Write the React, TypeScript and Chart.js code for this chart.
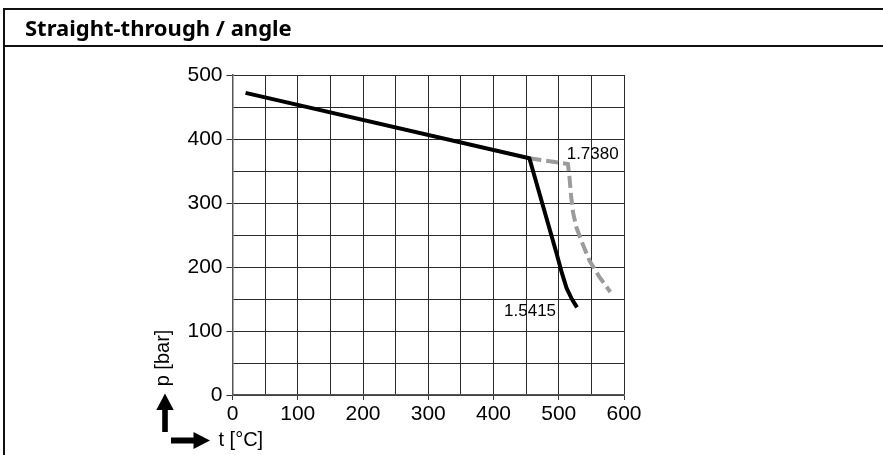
import React, { useEffect, useRef } from 'react';
import { Chart, registerables } from 'chart.js';

Chart.register(...registerables);

const TITLE = 'Straight-through / angle';
const X_LABEL = 't [°C]';
const Y_LABEL = 'p [bar]';

const X_MIN = 0;
const X_MAX = 600;
const Y_MIN = 0;
const Y_MAX = 500;
const GRID_STEP = 50;
const LABEL_STEP = 100;

// Solid black curve (1.5415)
const blackT = [20, 455, 497, 505, 512, 520, 528];
const blackP = [472, 370, 220, 190, 167, 150, 137];

// Dashed grey curve (1.7380)
const grayT = [455, 514, 516, 519, 522, 527, 537, 547, 562, 579];
const grayP = [370, 361, 345, 310, 285, 262, 235, 210, 185, 161];

// Curve labels
const noteText = ['1.7380', '1.5415'];
const noteT = [552, 456];
const noteP = [376, 130];

const FONT = '"Liberation Sans", Arial, Helvetica, sans-serif';

const toPoints = (xs: number[], ys: number[]) => xs.map((x, i) => ({ x, y: ys[i] }));

const overlayPlugin = {
  id: 'overlay',
  afterDraw(chart: any) {
    const { ctx, chartArea, scales } = chart;
    const xs = scales.x;
    const ys = scales.y;
    ctx.save();
    ctx.fillStyle = '#000';
    ctx.font = `17px ${FONT}`;
    ctx.textAlign = 'center';
    ctx.textBaseline = 'middle';
    noteText.forEach((t, i) => {
      ctx.fillText(t, xs.getPixelForValue(noteT[i]), ys.getPixelForValue(noteP[i]));
    });

    const L = chartArea.left;
    const B = chartArea.bottom;

    // y axis title (rotated)
    ctx.font = `20px ${FONT}`;
    ctx.save();
    ctx.translate(L - 69, B - 37);
    ctx.rotate(-Math.PI / 2);
    ctx.textAlign = 'center';
    ctx.textBaseline = 'middle';
    ctx.fillText(Y_LABEL, 0, 0);
    ctx.restore();

    // x axis title
    ctx.textAlign = 'left';
    ctx.textBaseline = 'middle';
    ctx.fillText(X_LABEL, L - 14, B + 45);

    // vertical arrow
    const ax = L - 67.5;
    ctx.fillStyle = '#000';
    ctx.fillRect(ax - 2.8, B + 12, 5.6, 25);
    ctx.beginPath();
    ctx.moveTo(ax, B - 1.5);
    ctx.lineTo(ax + 8.7, B + 15);
    ctx.lineTo(ax - 8.7, B + 15);
    ctx.closePath();
    ctx.fill();

    // horizontal arrow
    const ay = B + 45.5;
    ctx.fillRect(L - 61.5, ay - 3, 26, 6);
    ctx.beginPath();
    ctx.moveTo(L - 22.5, ay);
    ctx.lineTo(L - 39, ay - 8.5);
    ctx.lineTo(L - 39, ay + 8.5);
    ctx.closePath();
    ctx.fill();
    ctx.restore();
  },
};

export default function App() {
  const ref = useRef<HTMLCanvasElement | null>(null);

  useEffect(() => {
    document.body.style.margin = '0';
    if (!ref.current) return;
    const isMajor = (v: number) => Math.abs(v % LABEL_STEP) < 1e-6;
    const chart = new Chart(ref.current, {
      type: 'line',
      data: {
        datasets: [
          {
            label: '1.5415',
            data: toPoints(blackT, blackP),
            borderColor: '#000',
            borderWidth: 4,
            pointRadius: 0,
            tension: 0,
            borderJoinStyle: 'round',
          },
          {
            label: '1.7380',
            data: toPoints(grayT, grayP),
            borderColor: '#9b9b9b',
            borderWidth: 4,
            borderDash: [12, 5],
            pointRadius: 0,
            tension: 0,
          },
        ],
      },
      options: {
        animation: false,
        responsive: true,
        maintainAspectRatio: false,
        layout: { padding: { left: 0, top: 75, right: 259, bottom: 0 } },
        plugins: { legend: { display: false }, tooltip: { enabled: false }, title: { display: false } },
        scales: {
          x: {
            type: 'linear',
            min: X_MIN,
            max: X_MAX,
            afterFit: (s: any) => { s.height = 60; },
            ticks: {
              stepSize: GRID_STEP,
              autoSkip: false,
              maxRotation: 0,
              color: '#000',
              padding: 2,
              font: { family: FONT, size: 21 },
              callback: (v: any) => (isMajor(Number(v)) ? String(v) : ''),
            },
            grid: {
              color: '#2a2a2a',
              lineWidth: 1,
              tickLength: 5,
              tickColor: (c: any) => (isMajor(c.tick.value) ? '#333' : 'rgba(0,0,0,0)'),
            },
            border: { color: '#555', width: 1.5 },
          },
          y: {
            type: 'linear',
            min: Y_MIN,
            max: Y_MAX,
            afterFit: (s: any) => { s.width = 232.5; },
            ticks: {
              stepSize: GRID_STEP,
              autoSkip: false,
              color: '#000',
              padding: 4,
              font: { family: FONT, size: 21 },
              callback: (v: any) => (isMajor(Number(v)) ? String(v) : ''),
            },
            grid: {
              color: '#2a2a2a',
              lineWidth: 1,
              tickLength: 6,
              tickColor: (c: any) => (isMajor(c.tick.value) ? '#333' : 'rgba(0,0,0,0)'),
            },
            border: { color: '#555', width: 1.5 },
          },
        },
      },
      plugins: [overlayPlugin],
    });
    return () => chart.destroy();
  }, []);

  return (
    <div style={{ position: 'absolute', left: 0, top: 0, width: 883, height: 455, background: '#fff', overflow: 'hidden' }}>
      <div style={{ position: 'absolute', left: 0, top: 0, width: 883, height: 455 }}>
        <canvas ref={ref} />
      </div>
      <div
        style={{
          position: 'absolute',
          left: 3,
          top: 8,
          width: 880,
          height: 447,
          borderTop: '2px solid #111',
          borderLeft: '2px solid #111',
          boxSizing: 'border-box',
          pointerEvents: 'none',
        }}
      >
        <div
          style={{
            height: 37,
            borderBottom: '2px solid #111',
            boxSizing: 'border-box',
            paddingLeft: 20,
            fontFamily: '"Noto Sans", sans-serif',
            fontWeight: 700,
            fontSize: 22,
            lineHeight: '34px',
            color: '#000',
            whiteSpace: 'nowrap',
          }}
        >
          {TITLE}
        </div>
      </div>
    </div>
  );
}
